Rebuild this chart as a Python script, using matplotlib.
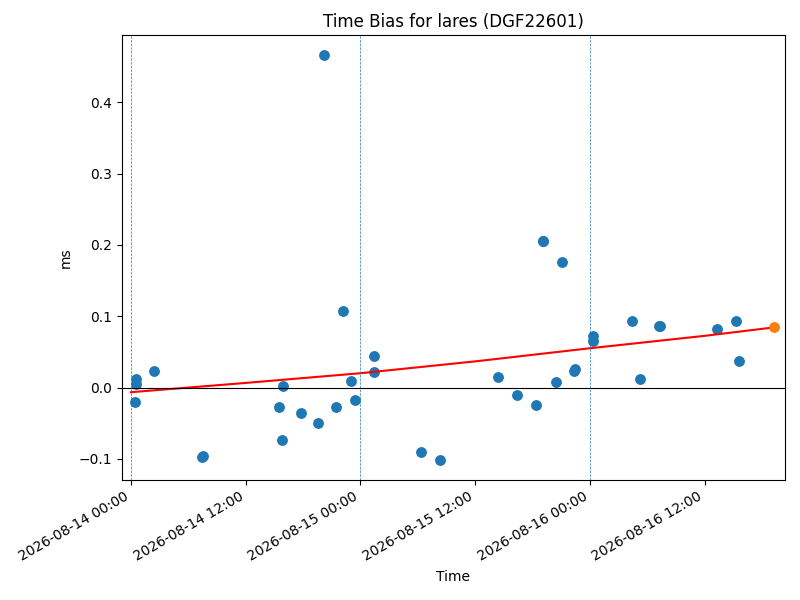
import matplotlib
matplotlib.use("Agg")
import matplotlib.pyplot as plt
import matplotlib.dates as mdates
import numpy as np
import pandas as pd

# observations (time, bias in ms)
times = ["2026-08-14 00:25", "2026-08-14 00:31", "2026-08-14 00:31", "2026-08-14 02:24",
         "2026-08-14 07:24", "2026-08-14 07:30", "2026-08-14 15:30", "2026-08-14 15:48",
         "2026-08-14 15:54", "2026-08-14 17:48", "2026-08-14 19:36", "2026-08-14 20:12",
         "2026-08-14 21:24", "2026-08-14 22:12", "2026-08-14 23:00", "2026-08-14 23:24",
         "2026-08-15 01:24", "2026-08-15 01:24", "2026-08-15 06:18", "2026-08-15 08:18",
         "2026-08-15 14:24", "2026-08-15 16:24", "2026-08-15 18:24", "2026-08-15 19:04",
         "2026-08-15 19:06", "2026-08-15 20:24", "2026-08-15 21:06", "2026-08-15 22:18",
         "2026-08-15 22:24", "2026-08-16 00:18", "2026-08-16 00:18", "2026-08-16 04:24",
         "2026-08-16 05:12", "2026-08-16 07:14", "2026-08-16 07:20", "2026-08-16 13:18",
         "2026-08-16 15:18", "2026-08-16 15:36"]
bias = [-0.0207, 0.0045, 0.0120, 0.0228,
        -0.0969, -0.0959, -0.0273, -0.0740,
        0.0025, -0.0363, -0.0502, 0.4658,
        -0.0273, 0.1078, 0.0089, -0.0174,
        0.0439, 0.0213, -0.0909, -0.1012,
        0.0144, -0.0104, -0.0243, 0.2061,
        0.2051, 0.0074, 0.1763, 0.0233,
        0.0263, 0.0720, 0.0651, 0.0939,
        0.0114, 0.0869, 0.0859, 0.0819,
        0.0929, 0.0372]

# latest normal point (highlighted)
last_time = "2026-08-16 19:18"
last_bias = 0.0844

# fitted trend
fit_times = ["2026-08-14 00:00", "2026-08-14 12:00", "2026-08-15 00:00", "2026-08-15 12:00",
             "2026-08-16 00:00", "2026-08-16 12:00", "2026-08-16 19:18"]
fit_vals = [-0.0065, 0.0065, 0.0201, 0.0367, 0.0551, 0.0725, 0.0844]

days = ["2026-08-14", "2026-08-15", "2026-08-16"]

t = pd.to_datetime(times)
ft = pd.to_datetime(fit_times)

fig, ax = plt.subplots(figsize=(8, 6))
fig.subplots_adjust(left=0.1525, right=0.98125, top=0.9417, bottom=0.1983)
ax.scatter(t, bias, s=46, color="C0", zorder=2)
ax.scatter(pd.to_datetime([last_time]), [last_bias], s=46, color="C1", zorder=3)
ax.plot(ft, fit_vals, color="red", zorder=2)
ax.axhline(0, color="black", linewidth=0.8)
for d in days:
    ax.axvline(pd.to_datetime(d), linestyle="--", linewidth=0.5, color="C0")

ax.set_xlim(pd.to_datetime("2026-08-13 23:04"), pd.to_datetime("2026-08-16 20:24"))
ax.xaxis.set_major_locator(mdates.HourLocator(byhour=[0, 12]))
ax.xaxis.set_major_formatter(mdates.DateFormatter("%Y-%m-%d %H:%M"))
ax.set_title("Time Bias for lares (DGF22601)")
ax.set_xlabel("Time")
ax.set_ylabel("ms")
fig.autofmt_xdate()
fig.savefig("out.png", dpi=100)
